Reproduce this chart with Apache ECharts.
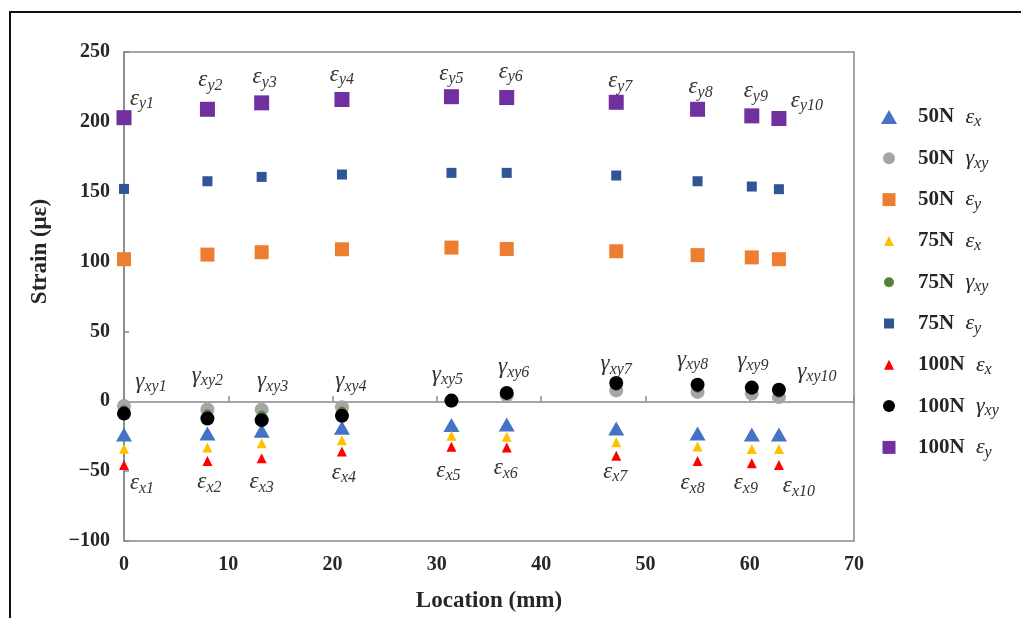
<!DOCTYPE html>
<html>
<head>
<meta charset="utf-8">
<script src="https://cdn.jsdelivr.net/npm/echarts@6/dist/echarts.min.js"></script>
<style>
  html, body { margin: 0; padding: 0; background: #fff; }
  #chart { width: 1021px; height: 618px; }
</style>
</head>
<body>
<div id="chart"></div>
<script>
// ---- data ----
const locations = [0, 8, 13.2, 20.9, 31.4, 36.7, 47.2, 55, 60.2, 62.8];
const ex50  = [-23.7, -23, -21, -19, -17, -16.6, -19.5, -23, -23.7, -23.7];
const gxy50 = [-3.3, -5.9, -6, -4.3, 0.3, 4.3, 7.8, 6.7, 5.5, 3.1];
const ey50  = [101.7, 105, 106.7, 108.8, 110, 109, 107.4, 104.6, 103, 101.7];
const ex75  = [-34, -33, -30, -27.8, -24.7, -25.4, -29.4, -32.3, -34.2, -34.2];
const gxy75 = [-6, -9, -10, -7, 0.5, 5, 10.5, 9.3, 7.6, 5.7];
const ey75  = [152, 157.5, 160.6, 162.3, 163.5, 163.5, 161.6, 157.5, 153.7, 151.8];
const ex100  = [-45.6, -42.8, -40.8, -36, -32.5, -33, -38.9, -42.8, -44.4, -45.6];
const gxy100 = [-8.8, -12.3, -13.5, -10.4, 0.5, 6, 13.1, 11.9, 9.8, 8.3];
const ey100  = [203, 209, 213.6, 216, 218, 217.4, 214, 209, 204.3, 202.4];
const seriesNames = ['50N εx', '50N γxy', '50N εy', '75N εx', '75N γxy', '75N εy', '100N εx', '100N γxy', '100N εy'];
const xTicks = [0, 10, 20, 30, 40, 50, 60, 70];
const yTicks = [-100, -50, 0, 50, 100, 150, 200, 250];

// ---- styles (label offsets in pixels, relative to markers) ----
const eyLabelOffsets = [[18,-19],[3,-29],[3,-26],[0,-25],[0,-23],[4,-26],[4,-21],[3,-22],[4,-25],[28,-18]];
const gLabelOffsets  = [[27,-32],[0,-43],[11,-39],[9,-35],[-4,-26],[7,-26],[0,-19],[-5,-25],[1,-27],[38,-18]];
const exLabelOffsets = [[18,18],[2,21],[0,24],[2,21],[-3,24],[-1,21],[-1,16],[-5,22],[-6,20],[20,21]];

const SERIF = "'Liberation Serif', 'Times New Roman', serif";
const TXT = '#262626';

const mathRich = {
  m: { fontFamily: SERIF, fontStyle: 'italic', fontSize: 23, color: '#333' },
  s: { fontFamily: SERIF, fontStyle: 'italic', fontSize: 16, color: '#333', padding: [11, 0, 0, 0] }
};

const styles = [
  { color: '#4472C4', shape: 'triangle', size: [16, 14], icon: ['tri', 16, 14] },
  { color: '#A5A5A5', shape: 'circle',   size: 14,       icon: ['circ', 12] },
  { color: '#ED7D31', shape: 'rect',     size: 14,       icon: ['rect', 13] },
  { color: '#FFC000', shape: 'triangle', size: [10, 10], icon: ['tri', 10, 10] },
  { color: '#548235', shape: 'circle',   size: 9,        icon: ['circ', 10] },
  { color: '#2F5597', shape: 'rect',     size: 10,       icon: ['rect', 10] },
  { color: '#FF0000', shape: 'triangle', size: [10, 10], icon: ['tri', 10, 10] },
  { color: '#000000', shape: 'circle',   size: 14,       icon: ['circ', 12] },
  { color: '#7030A0', shape: 'rect',     size: 15,       icon: ['rect', 13] }
];
const values = [ex50, gxy50, ey50, ex75, gxy75, ey75, ex100, gxy100, ey100];

function iconPath(ic) {
  const c = 10;
  let p = 'path://M0,0M20,20';
  if (ic[0] === 'tri') {
    const w = ic[1], h = ic[2];
    p += `M${c - w / 2},${c + h / 2}L${c},${c - h / 2}L${c + w / 2},${c + h / 2}Z`;
  } else if (ic[0] === 'circ') {
    const r = ic[1] / 2;
    p += `M${c - r},${c}A${r},${r},0,1,1,${c + r},${c}A${r},${r},0,1,1,${c - r},${c}Z`;
  } else {
    const s = ic[1];
    p += `M${c - s / 2},${c - s / 2}L${c + s / 2},${c - s / 2}L${c + s / 2},${c + s / 2}L${c - s / 2},${c + s / 2}Z`;
  }
  return p;
}

function labelled(vals, offsets, sym, sub) {
  return locations.map((x, i) => ({
    value: [x, vals[i]],
    label: {
      show: true,
      position: 'inside',
      offset: offsets[i],
      formatter: `{m|${sym}}{s|${sub}${i + 1}}`,
      rich: mathRich
    }
  }));
}

const series = seriesNames.map((name, k) => {
  const st = styles[k];
  let data;
  if (k === 8) data = labelled(values[k], eyLabelOffsets, 'ε', 'y');
  else if (k === 7) data = labelled(values[k], gLabelOffsets, 'γ', 'xy');
  else if (k === 6) data = labelled(values[k], exLabelOffsets, 'ε', 'x');
  else data = locations.map((x, i) => [x, values[k][i]]);
  return {
    name: name,
    type: 'scatter',
    symbol: st.shape,
    symbolSize: st.size,
    itemStyle: { color: st.color, opacity: 1 },
    emphasis: { disabled: true },
    data: data
  };
});

const chart = echarts.init(document.getElementById('chart'), null, { renderer: 'canvas' });
chart.setOption({
  animation: false,
  backgroundColor: '#ffffff',
  graphic: [{
    type: 'rect',
    shape: { x: 10, y: 12, width: 1100, height: 700 },
    style: { fill: 'none', stroke: '#111', lineWidth: 2 },
    silent: true, z: -10
  }],
  grid: {
    left: 124, right: 167, top: 52, bottom: 75,
    show: true, borderColor: '#888', borderWidth: 1.5, backgroundColor: 'transparent'
  },
  legend: {
    orient: 'vertical',
    left: 879, top: 106,
    padding: 0,
    itemWidth: 48, itemHeight: 20,
    itemGap: 17.3,
    selectedMode: false,
    data: seriesNames.map((n, k) => ({ name: n, icon: iconPath(styles[k].icon), itemStyle: { color: styles[k].color } })),
    formatter: function (name) {
      const parts = name.split(' ');
      return `{n|${parts[0]} }{m|${parts[1][0]}}{s|${parts[1].slice(1)}}`;
    },
    textStyle: {
      rich: {
        n: { fontFamily: SERIF, fontWeight: 'bold', fontSize: 21, color: TXT },
        m: { fontFamily: SERIF, fontStyle: 'italic', fontSize: 22, color: TXT, padding: [0, 0, 0, 6] },
        s: { fontFamily: SERIF, fontStyle: 'italic', fontSize: 16, color: TXT, padding: [10, 0, 0, 0] }
      }
    }
  },
  xAxis: [{
    type: 'value',
    min: 0, max: 70, interval: 10,
    position: 'bottom',
    name: 'Location (mm)',
    nameLocation: 'middle',
    nameGap: 49,
    nameTextStyle: { fontFamily: SERIF, fontWeight: 'bold', fontSize: 23, color: TXT },
    axisLine: { show: false, onZero: false },
    axisTick: { show: false },
    splitLine: { show: false },
    axisLabel: {
      margin: 14, fontFamily: SERIF, fontWeight: 'bold', fontSize: 20, color: TXT,
      formatter: v => xTicks.includes(v) ? String(v) : ''
    }
  }, {
    type: 'value',
    min: 0, max: 70, interval: 10,
    position: 'bottom',
    axisLine: { show: true, onZero: true, lineStyle: { color: '#888', width: 1.5 } },
    axisTick: { show: true, inside: true, length: 5, lineStyle: { color: '#888', width: 1.5 } },
    axisLabel: { show: false },
    splitLine: { show: false }
  }],
  yAxis: {
    type: 'value',
    min: -100, max: 250, interval: 50,
    name: 'Strain (με)',
    nameLocation: 'middle',
    nameGap: 72,
    nameTextStyle: { fontFamily: SERIF, fontWeight: 'bold', fontSize: 23, color: TXT, padding: [0, 0, 0, 90] },
    axisLine: { show: true, onZero: false, lineStyle: { color: '#888', width: 1.5 } },
    axisTick: { show: true, inside: true, length: 5, lineStyle: { color: '#888', width: 1.5 } },
    splitLine: { show: false },
    axisLabel: {
      margin: 14, fontFamily: SERIF, fontWeight: 'bold', fontSize: 20, color: TXT,
      formatter: v => {
        if (!yTicks.includes(v)) return '';
        return v < 0 ? '\u2212' + Math.abs(v) : String(v);
      }
    }
  },
  series: series
});
</script>
</body>
</html>
